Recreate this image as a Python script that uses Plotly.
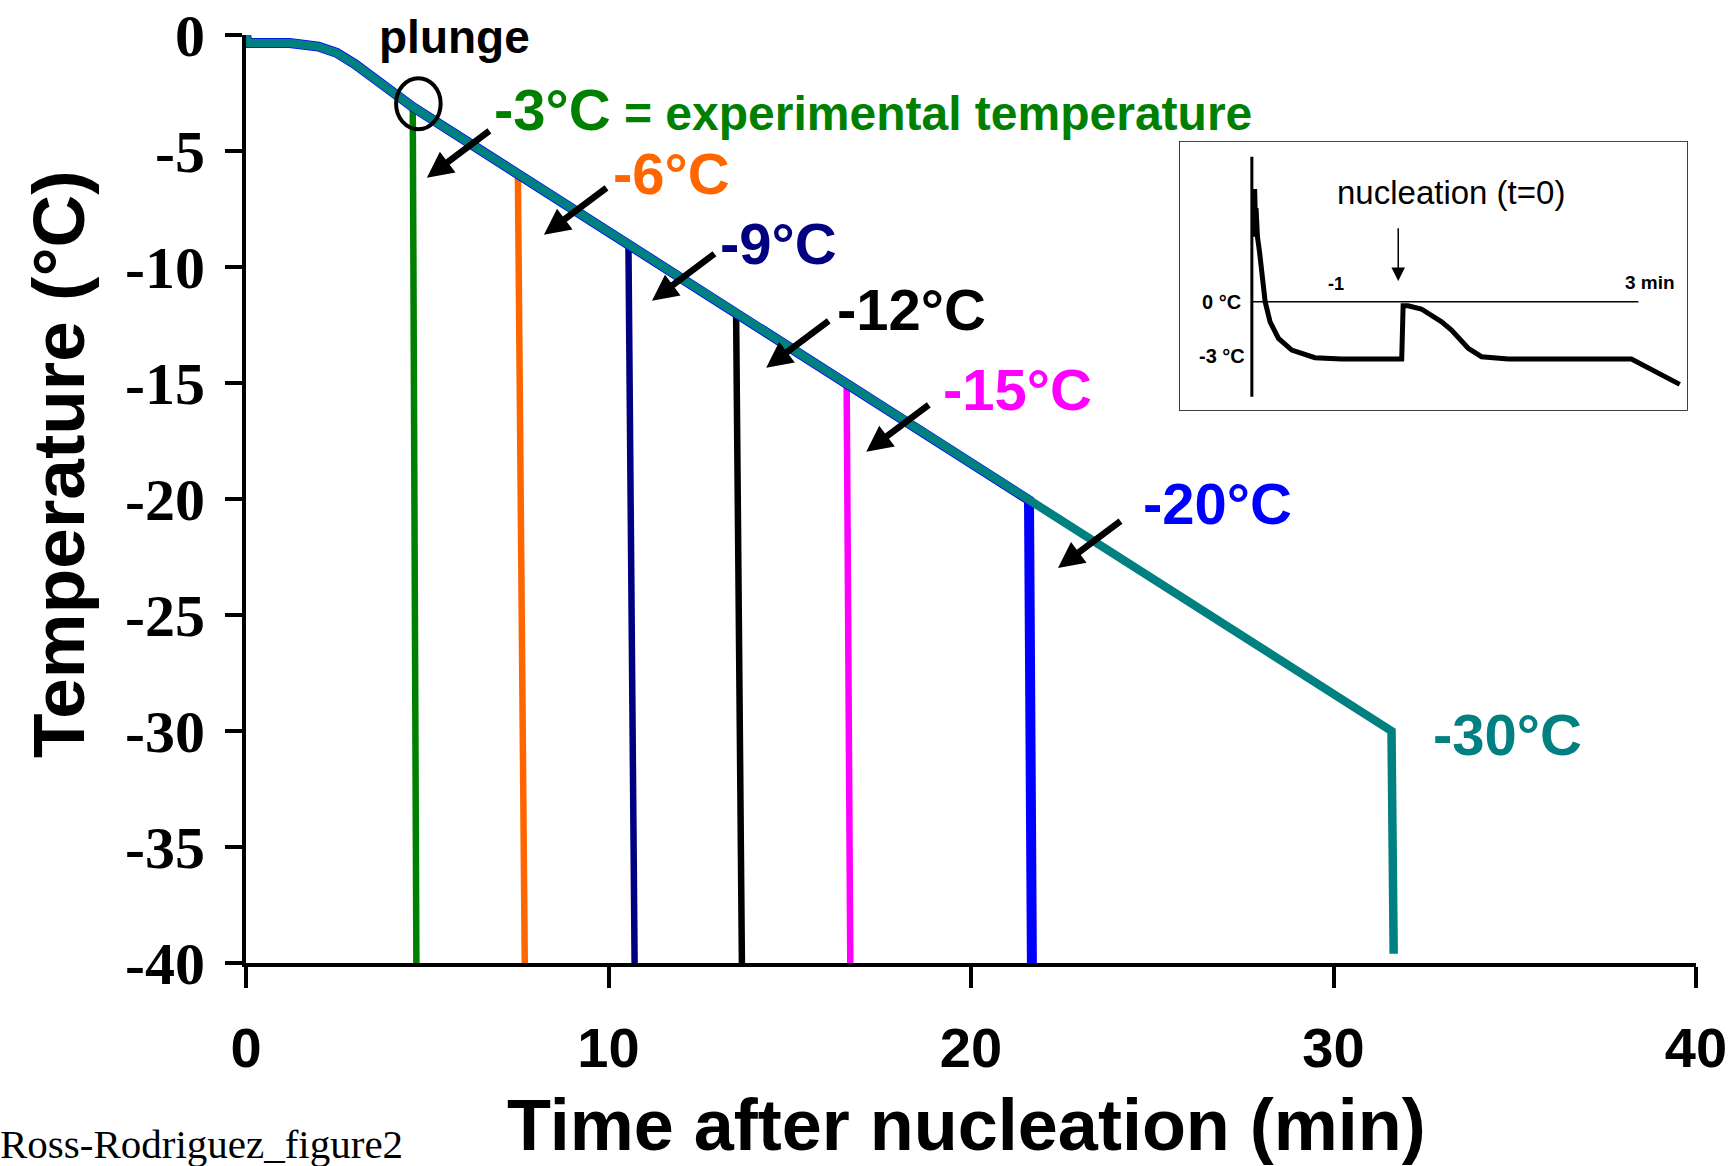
import plotly.graph_objects as go

# Shared cooling trace: time after nucleation (min) and sample temperature (°C)
cool_time = [0.0, 0.05, 1.2, 2.0, 2.5, 3.0, 4.6, 7.5, 10.55, 13.52, 16.57, 21.6, 31.6]
cool_temp = [0.0, -0.35, -0.35, -0.5, -0.77, -1.25, -3.1, -6.0, -9.05, -12.0, -15.05, -20.05, -30.0]

# Plunge series: each sample follows the cooling trace to its plunge point, then drops
plunge_names = ["-3°C", "-6°C", "-9°C", "-12°C", "-15°C", "-20°C", "-30°C"]
plunge_index = [6, 7, 8, 9, 10, 11, 12]
plunge_end_time = [4.7, 7.69, 10.72, 13.68, 16.67, 21.68, 31.66]
plunge_end_temp = [-40.0, -40.0, -40.0, -40.0, -40.0, -40.0, -39.6]

# Axis ticks
x_ticks = [0, 10, 20, 30, 40]
y_ticks = [0, -5, -10, -15, -20, -25, -30, -35, -40]
y_tick_text = ["0", "-5", "-10", "-15", "-20", "-25", "-30", "-35", "-40"]

# Inset: supercooling, nucleation and release of latent heat (min, °C)
inset_time = [-2.06, -2.05, -2.04, -2.03, -2.01, -1.98, -1.94, -1.90, -1.83, -1.71, -1.52,
              -1.19, -0.81, 0.05, 0.07, 0.14, 0.33, 0.62, 0.76, 1.00, 1.19, 1.57, 3.33, 4.02]
inset_temp = [3.4, 5.9, 4.3, 4.9, 3.4, 2.6, 1.05, 0.0, -1.05, -1.92, -2.53,
              -2.93, -3.0, -3.0, -0.21, -0.21, -0.38, -1.05, -1.48, -2.44, -2.88, -3.0, -3.0, -4.33]

colors = ["#008000", "#FF6600", "#000080", "#000000", "#FF00FF", "#0000FF", "#008080"]
widths = [6.5, 6.5, 6.5, 6.5, 6.5, 10, 8.5]

SANS = "Liberation Sans"
SERIF = "Liberation Serif"

fig = go.Figure()

for i, name in enumerate(plunge_names):
    k = plunge_index[i]
    fig.add_trace(go.Scatter(
        x=cool_time[:k + 1] + [plunge_end_time[i]],
        y=cool_temp[:k + 1] + [plunge_end_temp[i]],
        mode="lines", name=name,
        line=dict(color=colors[i], width=widths[i]),
        hoverinfo="skip", showlegend=False,
    ))

fig.add_trace(go.Scatter(
    x=inset_time, y=inset_temp, xaxis="x2", yaxis="y2",
    mode="lines", line=dict(color="black", width=5),
    hoverinfo="skip", showlegend=False,
))

annotations = []

# Temperature labels beside each plunge line
label_pos = [(6.79, -3.22), (10.06, -5.98), (13.02, -9.0), (16.25, -11.84),
             (19.18, -15.29), (24.69, -20.21), (32.69, -30.13)]
for i, name in enumerate(plunge_names):
    text = name
    if i == 0:
        text = name + "<span style='font-size:48px'> = experimental temperature</span>"
    annotations.append(dict(
        x=label_pos[i][0], y=label_pos[i][1], xref="x", yref="y",
        text=text, showarrow=False, xanchor="left", yanchor="middle",
        font=dict(family=SANS, size=58, color=colors[i], weight="bold"),
    ))

# Arrows pointing at the plunge lines
arrow_tips = [(4.99, -6.15), (8.22, -8.61), (11.20, -11.45), (14.35, -14.34),
              (17.11, -17.96), (22.40, -22.97)]
for tx, ty in arrow_tips:
    annotations.append(dict(
        x=tx, y=ty, xref="x", yref="y", ax=64, ay=-48, text="",
        showarrow=True, arrowhead=2, arrowsize=0.8, arrowwidth=6.5, arrowcolor="black",
    ))

annotations.append(dict(
    x=5.75, y=-0.07, xref="x", yref="y", text="plunge", showarrow=False,
    xanchor="center", yanchor="middle",
    font=dict(family=SANS, size=46, color="black", weight="bold"),
))

# Axis titles and file tag
annotations.append(dict(
    x=-0.1297, y=0.5377, xref="paper", yref="paper", text="Temperature (°C)",
    textangle=-90, showarrow=False, xanchor="center", yanchor="middle",
    font=dict(family=SANS, size=73, color="black", weight="bold"),
))
annotations.append(dict(
    x=0.4966, y=-0.1746, xref="paper", yref="paper", text="Time after nucleation (min)",
    showarrow=False, xanchor="center", yanchor="middle",
    font=dict(family=SANS, size=72, color="black", weight="bold"),
))
annotations.append(dict(
    x=-0.1711, y=-0.1950, xref="paper", yref="paper", text="Ross-Rodriguez_figure2",
    showarrow=False, xanchor="left", yanchor="middle",
    font=dict(family=SERIF, size=41, color="black"),
))

# Inset texts
inset_font = dict(family=SANS, size=20, color="black", weight="bold")
annotations += [
    dict(x=0.75, y=5.74, xref="x2", yref="y2", text="nucleation (t=0)", showarrow=False,
         xanchor="center", yanchor="middle", font=dict(family=SANS, size=33, color="black")),
    dict(x=0, y=1.08, xref="x2", yref="y2", ax=0, ay=3.93, axref="x2", ayref="y2", text="",
         showarrow=True, arrowhead=2, arrowsize=1.8, arrowwidth=1.5, arrowcolor="black"),
    dict(x=-2.22, y=0.0, xref="x2", yref="y2", text="0 °C", showarrow=False,
         xanchor="right", yanchor="middle", font=inset_font),
    dict(x=-2.16, y=-2.84, xref="x2", yref="y2", text="-3 °C", showarrow=False,
         xanchor="right", yanchor="middle", font=inset_font),
    dict(x=-0.89, y=0.93, xref="x2", yref="y2", text="-1", showarrow=False,
         xanchor="center", yanchor="middle", font=dict(family=SANS, size=18, color="black", weight="bold")),
    dict(x=3.98, y=1.03, xref="x2", yref="y2", text="3 min", showarrow=False,
         xanchor="right", yanchor="middle", font=dict(family=SANS, size=19, color="black", weight="bold")),
]

shapes = [
    # circle around the plunge point
    dict(type="circle", xref="x", yref="y", x0=4.14, x1=5.37, y0=-4.06, y1=-1.86,
         line=dict(color="black", width=4)),
    # inset frame
    dict(type="rect", xref="paper", yref="paper", x0=0.644, x1=0.9938, y0=0.5959, y1=0.885,
         line=dict(color="black", width=1.5), fillcolor="rgba(0,0,0,0)", layer="below"),
    # inset temperature axis and 0 °C reference
    dict(type="line", xref="x2", yref="y2", x0=-2.09, x1=-2.09, y0=7.59, y1=-4.97,
         line=dict(color="black", width=3)),
    dict(type="line", xref="x2", yref="y2", x0=-2.09, x1=3.43, y0=0, y1=0,
         line=dict(color="black", width=1.5)),
]

fig.update_layout(
    width=1736, height=1166,
    margin=dict(l=246, r=40, t=35, b=203, autoexpand=False),
    paper_bgcolor="white", plot_bgcolor="white",
    showlegend=False,
    xaxis=dict(
        range=[0, 40], tickvals=x_ticks, ticks="outside", ticklen=21,
        tickwidth=4, tickcolor="black", showline=True, linewidth=4, linecolor="black",
        showgrid=False, zeroline=False, automargin=False,
        tickfont=dict(family=SANS, size=56, color="black", weight="bold"),
        ticklabelstandoff=12,
    ),
    yaxis=dict(
        range=[-40, 0], tickvals=y_ticks, ticktext=y_tick_text, ticks="outside", ticklen=17,
        tickwidth=4, tickcolor="black", showline=True, linewidth=4, linecolor="black",
        showgrid=False, zeroline=False, automargin=False,
        tickfont=dict(family=SERIF, size=60, color="black", weight="bold"),
        ticklabelstandoff=8,
    ),
    xaxis2=dict(domain=[0.644, 0.9938], range=[-3.119, 4.124], anchor="y2", visible=False),
    yaxis2=dict(domain=[0.5959, 0.885], range=[-5.670, 8.377], anchor="x2", visible=False),
    annotations=annotations,
    shapes=shapes,
)

fig.write_html("out.html")
